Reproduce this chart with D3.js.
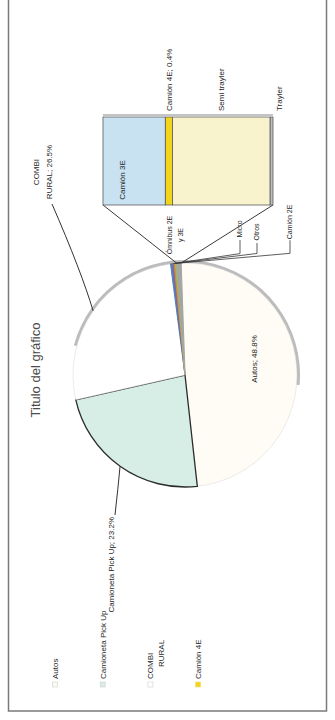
<!DOCTYPE html>
<html>
<head>
<meta charset="utf-8">
<script src="https://cdn.jsdelivr.net/npm/d3@7"></script>
<style>
  body { margin: 0; background: #fff; }
  svg { display: block; font-family: "Liberation Sans", Arial, sans-serif; }
</style>
</head>
<body>
<script>
// Pie slices (the last one, "Otro", is broken out into the bar)
const pieNames = ['Autos', 'Camioneta Pick Up', 'COMBI RURAL', 'Ómnibus 2E y 3E', 'Micro', 'Otros', 'Camión 2E', 'Otro'];
const pieValues = [48.8, 23.2, 26.5, 0.3, 0.2, 0.2, 0.2, 0.6];
const pieColors = ['#fefcf4', '#d6eee6', '#ffffff', '#4f81bd', '#8064a2', '#d9823b', '#9bbb59', '#a5a5a5'];

// Stacked bar (breakdown of "Otro")
const barNames = ['Camión 3E', 'Camión 4E', 'Semi trayler', 'Trayler'];
const barValues = [0.22, 0.025, 0.345, 0.01];
const barLabels = ['Camión 3E', 'Camión 4E; 0.4%', 'Semi trayler', 'Trayler'];
const barColors = ['#c8e2f2', '#f2d41c', '#f8f3cc', '#bdbdbd'];

// Data labels on the pie
const pieLabels = ['Autos; 48.8%', 'Camioneta Pick Up; 23.2%', ['COMBI', 'RURAL; 26.5%'], ['Ómnibus 2E', 'y 3E'], 'Micro', 'Otros', 'Camión 2E'];

// Legend
const legendNames = ['Autos', 'Camioneta Pick Up', 'COMBI RURAL', 'Camión 4E'];
const legendColors = ['#fdfbf1', '#d6eee6', '#ffffff', '#f2d41c'];

const width = 335;
const height = 720;
const turn = 712; // the chart is photographed lying on its side

const svg = d3.select('body')
  .append('svg')
  .attr('width', width)
  .attr('height', height);

// paper frame
svg.append('rect')
  .attr('x', 8.5)
  .attr('y', -4)
  .attr('width', 318)
  .attr('height', 715)
  .attr('fill', 'none')
  .attr('stroke', '#7a7a7a')
  .attr('stroke-width', 1.5);

// everything is drawn upright and then turned a quarter to the left
const chart = svg.append('g')
  .attr('transform', `translate(0,${turn}) rotate(-90)`);

chart.append('text')
  .attr('x', 342)
  .attr('y', 40)
  .attr('text-anchor', 'middle')
  .style('font-size', '13px')
  .attr('fill', '#4a4a4a')
  .text('Titulo del gráfico');

// ---- pie ----
const cx = 337, cy = 185, r = 112;
const rad = deg => deg * Math.PI / 180;
const start = rad(88);

const pie = d3.pie()
  .sort(null)
  .value(d => d)
  .startAngle(start)
  .endAngle(start + 2 * Math.PI);
const arcs = pie(pieValues);
const arc = d3.arc().innerRadius(0).outerRadius(r);
const onRim = (a, rr = r) => [cx + rr * Math.sin(a), cy - rr * Math.cos(a)];

const pieG = chart.append('g')
  .attr('transform', `translate(${cx},${cy})`);

// grey rim shadow from the scan
pieG.append('path')
  .attr('d', d3.arc().innerRadius(r - 1).outerRadius(r + 3).startAngle(rad(15)).endAngle(rad(185))())
  .attr('fill', '#bcbcbc');

pieG.selectAll('path.slice')
  .data(arcs)
  .enter()
  .append('path')
  .attr('class', 'slice')
  .attr('d', arc)
  .attr('fill', (d, i) => pieColors[i])
  .attr('stroke', (d, i) => i === 1 ? '#2b2b2b' : (i > 2 ? pieColors[i] : '#d6d6d6'))
  .attr('stroke-width', (d, i) => i === 1 ? 1.3 : (i > 2 ? 1.1 : 0.5));

// ---- bar ----
const barX = 507, barW = 88;
const barTotal = d3.sum(barValues);
const yBar = d3.scaleLinear().domain([0, barTotal]).range([103, 273]);
const stacked = barValues.map((v, i) => ({
  name: barNames[i],
  y0: d3.sum(barValues.slice(0, i)),
  y1: d3.sum(barValues.slice(0, i + 1))
}));

// connector lines between the "Otro" slice and the bar
const other = arcs[arcs.length - 1];
const connectors = [
  [onRim(other.startAngle), [barX, yBar(0)]],
  [onRim(other.endAngle), [barX, yBar(barTotal)]]
];
chart.selectAll('line.connector')
  .data(connectors)
  .enter()
  .append('line')
  .attr('class', 'connector')
  .attr('x1', d => d[0][0])
  .attr('y1', d => d[0][1])
  .attr('x2', d => d[1][0])
  .attr('y2', d => d[1][1])
  .attr('stroke', '#3a3a3a')
  .attr('stroke-width', 1);

chart.selectAll('rect.seg')
  .data(stacked)
  .enter()
  .append('rect')
  .attr('class', 'seg')
  .attr('x', barX)
  .attr('y', d => yBar(d.y0))
  .attr('width', barW)
  .attr('height', d => yBar(d.y1) - yBar(d.y0))
  .attr('fill', (d, i) => barColors[i])
  .attr('stroke', '#5a5a5a')
  .attr('stroke-width', 0.8);

// grey edge along the outer side of the bar
chart.append('rect')
  .attr('x', barX + barW)
  .attr('y', yBar(0))
  .attr('width', 3)
  .attr('height', yBar(barTotal) - yBar(0))
  .attr('fill', '#c4c4c4');

// bar labels
chart.append('text')
  .attr('x', barX + 25)
  .attr('y', (yBar(stacked[0].y0) + yBar(stacked[0].y1)) / 2 - 9)
  .attr('text-anchor', 'middle')
  .style('font-size', '8px')
  .attr('fill', '#1e1e1e')
  .text(barLabels[0]);

chart.selectAll('text.barlab')
  .data(stacked.slice(1))
  .enter()
  .append('text')
  .attr('class', 'barlab')
  .attr('x', barX + barW + 6)
  .attr('y', (d, i) => (yBar(d.y0) + yBar(d.y1)) / 2 + 3 + (i === 2 ? 7 : 0))
  .style('font-size', '8px')
  .attr('fill', '#1e1e1e')
  .text((d, i) => barLabels[i + 1]);

// ---- pie data labels ----
const lab = chart.append('g')
  .style('font-size', '8px')
  .attr('fill', '#1e1e1e');

const mid = d => (d.startAngle + d.endAngle) / 2;

// Autos (inside)
lab.append('text')
  .attr('x', 353)
  .attr('y', 257)
  .attr('text-anchor', 'middle')
  .text(pieLabels[0]);

// Camioneta Pick Up (outside, left)
lab.append('text')
  .attr('x', 195)
  .attr('y', 114)
  .attr('text-anchor', 'end')
  .text(pieLabels[1]);
const pCam = onRim(mid(arcs[1]));
chart.append('path')
  .attr('d', `M197,115 Q${pCam[0] - 22},${pCam[1] - 2} ${pCam[0]},${pCam[1]}`)
  .attr('fill', 'none')
  .attr('stroke', '#333')
  .attr('stroke-width', 1);

// COMBI RURAL (outside, top)
const combi = lab.append('text')
  .attr('text-anchor', 'middle');
pieLabels[2].forEach((t, i) => {
  combi.append('tspan').attr('x', 540).attr('y', 39 + i * 13).text(t);
});
const pCombi = onRim(mid(arcs[2]));
chart.append('path')
  .attr('d', `M508,52 Q${pCombi[0] + 40},${pCombi[1] - 12} ${pCombi[0]},${pCombi[1]}`)
  .attr('fill', 'none')
  .attr('stroke', '#333')
  .attr('stroke-width', 1);

// small slices near the bar
const smallPos = [[477, 172], [483, 240], [480, 257], [490, 290]];
const omni = lab.append('text')
  .attr('text-anchor', 'middle')
  .style('font-size', '7px');
pieLabels[3].forEach((t, i) => {
  omni.append('tspan').attr('x', smallPos[0][0]).attr('y', smallPos[0][1] + i * 11).text(t);
});
[4, 5, 6].forEach((k, j) => {
  const [lx, ly] = smallPos[j + 1];
  lab.append('text')
    .attr('x', lx)
    .attr('y', ly + 2)
    .attr('text-anchor', 'middle')
    .style('font-size', '7px')
    .text(pieLabels[k]);
  const p = onRim(mid(arcs[k]));
  const left = lx - (pieLabels[k].length * 3.6) / 2 - 2;
  chart.append('polyline')
    .attr('points', `${left},${ly} ${p[0] + 10},${ly} ${p[0]},${p[1]}`)
    .attr('fill', 'none')
    .attr('stroke', '#333')
    .attr('stroke-width', 0.8);
});

// ---- legend ----
const legend = chart.append('g')
  .style('font-size', '8px')
  .attr('fill', '#2a2a2a');

const items = legend.selectAll('.legend-item')
  .data(legendNames)
  .enter()
  .append('g')
  .attr('class', 'legend-item')
  .attr('transform', (d, i) => `translate(25, ${55 + i * 47.7})`);

items.append('rect')
  .attr('x', 0)
  .attr('y', -2.5)
  .attr('width', 5)
  .attr('height', 5)
  .attr('fill', (d, i) => legendColors[i])
  .attr('stroke', (d, i) => i === 3 ? '#e6e07a' : '#cfcfcf')
  .attr('stroke-width', 0.6);

items.append('text')
  .attr('x', 8)
  .attr('y', 3)
  .each(function (d) {
    const parts = d === 'COMBI RURAL' ? ['COMBI', 'RURAL'] : [d];
    parts.forEach((t, i) => {
      d3.select(this).append('tspan')
        .attr('x', i ? 20 : 8)
        .attr('dy', i ? 11 : 0)
        .text(t);
    });
  });
</script>
</body>
</html>
